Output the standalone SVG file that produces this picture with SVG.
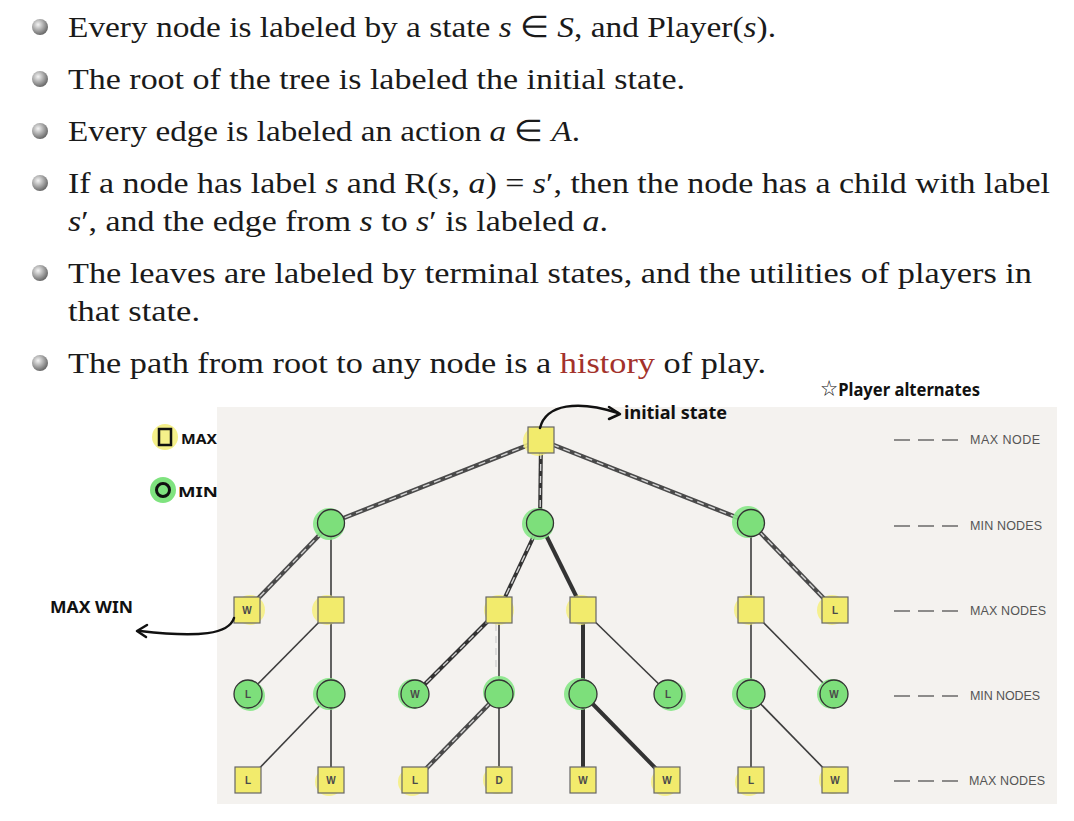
<svg xmlns="http://www.w3.org/2000/svg" width="1074" height="821" viewBox="0 0 1074 821">
<defs>
<radialGradient id="ball" cx="38%" cy="35%" r="65%">
<stop offset="0" stop-color="#f4f4f4"/>
<stop offset="0.55" stop-color="#a8a8a8"/>
<stop offset="1" stop-color="#6a6a6a"/>
</radialGradient>
<style>
.tx{font-family:"Liberation Serif","Times New Roman",serif;font-size:30px;fill:#1a1a1a}
.it{font-style:italic}
.hist{fill:#a3322b}
.hand{font-family:"Noto Sans","DejaVu Sans",sans-serif;font-weight:700;fill:#111}
.lvl{font-family:"Liberation Sans",Arial,sans-serif;font-size:12.5px;fill:#555}
.lvldash{stroke:#6a6a6a;stroke-width:1.6;stroke-dasharray:16 8;fill:none}
.thin{stroke:#3d3d3d;stroke-width:1.6;fill:none}
.thick{stroke:#333;stroke-width:4;fill:none}
.pv{stroke:#4a4a4a;stroke-width:4.5;fill:none}
.dsh{stroke:#d4d4d4;stroke-width:1.4;stroke-dasharray:7 5;fill:none}
.sq{fill:#f2eb6c;stroke:#666;stroke-width:1.2}
.ci{fill:#7ddf7b;stroke:#333;stroke-width:1.3}
.yh{fill:#f6f07c;opacity:0.85}
.gh{fill:#86e786;opacity:0.9}
.nl{font-family:"Liberation Sans",Arial,sans-serif;font-size:10px;font-weight:700;fill:#4a4a4a;text-anchor:middle}
.ink{stroke:#111;stroke-width:2.5;fill:none;stroke-linecap:round;stroke-linejoin:round}
</style>
</defs>
<rect width="1074" height="821" fill="#ffffff"/>

<g id="bullets">
<circle cx="40" cy="27" r="8" fill="url(#ball)"/>
<circle cx="40" cy="79" r="8" fill="url(#ball)"/>
<circle cx="40" cy="131" r="8" fill="url(#ball)"/>
<circle cx="40" cy="183" r="8" fill="url(#ball)"/>
<circle cx="40" cy="273" r="8" fill="url(#ball)"/>
<circle cx="40" cy="363" r="8" fill="url(#ball)"/>
</g>
<g id="text">
<text class="tx" x="68" y="37" textLength="708" lengthAdjust="spacingAndGlyphs">Every node is labeled by a state <tspan class="it">s</tspan> ∈ <tspan class="it">S</tspan>, and Player(<tspan class="it">s</tspan>).</text>
<text class="tx" x="68" y="89" textLength="617" lengthAdjust="spacingAndGlyphs">The root of the tree is labeled the initial state.</text>
<text class="tx" x="68" y="141" textLength="512" lengthAdjust="spacingAndGlyphs">Every edge is labeled an action <tspan class="it">a</tspan> ∈ <tspan class="it">A</tspan>.</text>
<text class="tx" x="68" y="193" textLength="982" lengthAdjust="spacingAndGlyphs">If a node has label <tspan class="it">s</tspan> and R(<tspan class="it">s</tspan>, <tspan class="it">a</tspan>) = <tspan class="it">s</tspan>′, then the node has a child with label</text>
<text class="tx" x="68" y="231" textLength="540" lengthAdjust="spacingAndGlyphs"><tspan class="it">s</tspan>′, and the edge from <tspan class="it">s</tspan> to <tspan class="it">s</tspan>′ is labeled <tspan class="it">a</tspan>.</text>
<text class="tx" x="68" y="283" textLength="964" lengthAdjust="spacingAndGlyphs">The leaves are labeled by terminal states, and the utilities of players in</text>
<text class="tx" x="68" y="321" textLength="132" lengthAdjust="spacingAndGlyphs">that state.</text>
<text class="tx" x="68" y="373" textLength="698" lengthAdjust="spacingAndGlyphs">The path from root to any node is a <tspan class="hist">history</tspan> of play.</text>
</g>

<rect id="panel" x="217" y="407" width="840" height="397" fill="#f4f2ef"/>

<g id="levels">
<line class="lvldash" x1="894" y1="440" x2="958" y2="440"/>
<text class="lvl" x="970" y="444" textLength="70">MAX NODE</text>
<line class="lvldash" x1="894" y1="526" x2="958" y2="526"/>
<text class="lvl" x="970" y="530" textLength="72">MIN NODES</text>
<line class="lvldash" x1="894" y1="611" x2="958" y2="611"/>
<text class="lvl" x="970" y="615" textLength="76">MAX NODES</text>
<line class="lvldash" x1="894" y1="696" x2="958" y2="696"/>
<text class="lvl" x="970" y="700" textLength="70">MIN NODES</text>
<line class="lvldash" x1="894" y1="781" x2="958" y2="781"/>
<text class="lvl" x="969" y="785" textLength="76">MAX NODES</text>
</g>

<g id="connectors">
<path class="pv" d="M541,440 L331,523"/><path class="dsh" d="M541,440 L331,523"/>
<path class="thick" d="M541,440 L540,523"/><path class="dsh" d="M541,440 L540,523"/>
<path class="pv" d="M541,440 L751,523"/><path class="dsh" d="M541,440 L751,523"/>
<path class="pv" d="M331,523 L247,610"/><path class="dsh" d="M331,523 L247,610"/>
<path class="thin" d="M331,523 L331,610"/>
<path class="thick" d="M540,523 L499,610"/><path class="dsh" d="M540,523 L499,610"/>
<path class="thick" d="M540,523 L583,610"/>
<path class="thin" d="M751,523 L751,610"/>
<path class="pv" d="M751,523 L835,610"/><path class="dsh" d="M751,523 L835,610"/>
<path class="thin" d="M331,610 L248,694"/>
<path class="thin" d="M331,610 L331,694"/>
<path class="thick" d="M499,610 L415,694"/><path class="dsh" d="M499,610 L415,694"/>
<path class="thin" d="M499,610 L499,694"/><path class="dsh" d="M496,612 L496,670"/>
<path class="thick" d="M583,610 L583,694"/>
<path class="thin" d="M583,610 L669,694"/>
<path class="thin" d="M751,610 L751,694"/>
<path class="thin" d="M751,610 L834,694"/>
<path class="thin" d="M331,694 L248,780"/>
<path class="thin" d="M331,694 L331,780"/>
<path class="pv" d="M499,694 L415,780"/><path class="dsh" d="M499,694 L415,780"/>
<path class="thin" d="M499,694 L499,780"/>
<path class="thick" d="M583,694 L583,780"/>
<path class="thick" d="M583,694 L667,780"/>
<path class="thin" d="M751,694 L751,780"/>
<path class="thin" d="M751,694 L835,780"/>
</g>

<g id="root"><circle class="yh" cx="538" cy="441" r="15"/><rect class="sq" x="528" y="427" width="26" height="26"/></g>

<g id="min1"><circle class="gh" cx="329" cy="524" r="16"/><circle class="ci" cx="331" cy="523" r="13.5"/></g>
<g id="min2"><circle class="gh" cx="538" cy="524" r="16"/><circle class="ci" cx="540" cy="523" r="13.5"/></g>
<g id="min3"><circle class="gh" cx="748" cy="522" r="16"/><circle class="ci" cx="751" cy="523" r="13.5"/></g>

<g id="max-w1"><circle class="yh" cx="250" cy="610" r="15"/><rect class="sq" x="234" y="597" width="26" height="26"/><text class="nl" x="247" y="614">W</text></g>
<g id="max2"><circle class="yh" cx="327" cy="610" r="15"/><rect class="sq" x="318" y="597" width="26" height="26"/></g>
<g id="max3"><circle class="yh" cx="499" cy="610" r="15"/><rect class="sq" x="486" y="597" width="26" height="26"/></g>
<g id="max4"><circle class="yh" cx="581" cy="610" r="15"/><rect class="sq" x="570" y="597" width="26" height="26"/></g>
<g id="max5"><circle class="yh" cx="749" cy="610" r="15"/><rect class="sq" x="738" y="597" width="26" height="26"/></g>
<g id="max-l6"><circle class="yh" cx="832" cy="610" r="15"/><rect class="sq" x="822" y="597" width="26" height="26"/><text class="nl" x="835" y="614">L</text></g>

<g id="min-l1"><circle class="gh" cx="250" cy="696" r="15"/><circle class="ci" cx="248" cy="694" r="14"/><text class="nl" x="248" y="698">L</text></g>
<g id="min2b"><circle class="gh" cx="329" cy="694" r="16"/><circle class="ci" cx="331" cy="694" r="14"/></g>
<g id="min-w3"><circle class="gh" cx="413" cy="694" r="15"/><circle class="ci" cx="415" cy="694" r="14"/><text class="nl" x="415" y="698">W</text></g>
<g id="min4b"><circle class="gh" cx="499" cy="692" r="16"/><circle class="ci" cx="499" cy="694" r="14"/></g>
<g id="min5b"><circle class="gh" cx="580" cy="694" r="16"/><circle class="ci" cx="583" cy="694" r="14"/></g>
<g id="min-l6"><circle class="gh" cx="671" cy="696" r="15"/><circle class="ci" cx="668" cy="694" r="14"/><text class="nl" x="668" y="698">L</text></g>
<g id="min7b"><circle class="gh" cx="748" cy="694" r="16"/><circle class="ci" cx="751" cy="694" r="14"/></g>
<g id="min-w8"><circle class="gh" cx="832" cy="694" r="15"/><circle class="ci" cx="834" cy="694" r="14"/><text class="nl" x="834" y="698">W</text></g>

<g id="leaf-l1"><rect class="sq" x="235" y="767" width="26" height="26"/><text class="nl" x="248" y="784">L</text></g>
<g id="leaf-w2"><circle class="yh" cx="329" cy="782" r="14"/><rect class="sq" x="318" y="767" width="26" height="26"/><text class="nl" x="331" y="784">W</text></g>
<g id="leaf-l3"><circle class="yh" cx="412" cy="782" r="14"/><rect class="sq" x="402" y="767" width="26" height="26"/><text class="nl" x="415" y="784">L</text></g>
<g id="leaf-d4"><circle class="yh" cx="497" cy="780" r="14"/><rect class="sq" x="486" y="767" width="26" height="26"/><text class="nl" x="499" y="784">D</text></g>
<g id="leaf-w5"><rect class="sq" x="570" y="767" width="26" height="26"/><text class="nl" x="583" y="784">W</text></g>
<g id="leaf-w6"><circle class="yh" cx="665" cy="782" r="14"/><rect class="sq" x="654" y="767" width="26" height="26"/><text class="nl" x="667" y="784">W</text></g>
<g id="leaf-l7"><circle class="yh" cx="749" cy="782" r="14"/><rect class="sq" x="738" y="767" width="26" height="26"/><text class="nl" x="751" y="784">L</text></g>
<g id="leaf-w8"><circle class="yh" cx="833" cy="780" r="14"/><rect class="sq" x="822" y="767" width="26" height="26"/><text class="nl" x="835" y="784">W</text></g>

<g id="legend">
<circle cx="165" cy="437" r="13" fill="#f5f08a"/>
<rect x="159" y="429" width="12" height="16" fill="none" stroke="#111" stroke-width="2.5"/>
<text class="hand" x="181" y="444" font-size="15" textLength="36" lengthAdjust="spacingAndGlyphs">MAX</text>
<circle cx="163" cy="490" r="13" fill="#7fe37f"/>
<circle cx="163" cy="490" r="6.5" fill="none" stroke="#111" stroke-width="3"/>
<text class="hand" x="178" y="497" font-size="15" textLength="40" lengthAdjust="spacingAndGlyphs">MIN</text>
</g>

<g id="annotations">
<text class="hand" x="50" y="613" font-size="16" textLength="83" lengthAdjust="spacingAndGlyphs">MAX WIN</text>
<path class="ink" d="M234,618 C229,634 200,638 140,631"/>
<path class="ink" d="M147,625 L137,631 L146,637"/>
<path class="ink" d="M540,428 C546,404 578,400 618,413"/>
<path class="ink" d="M609,407 L620,414 L609,419"/>
<text class="hand" x="624" y="419" font-size="17" font-weight="400" textLength="103" lengthAdjust="spacingAndGlyphs">initial state</text>
<text class="hand" x="820" y="396" font-size="18" font-weight="400" textLength="160" lengthAdjust="spacingAndGlyphs"><tspan font-size="22">☆</tspan>Player alternates</text>
</g>
</svg>
